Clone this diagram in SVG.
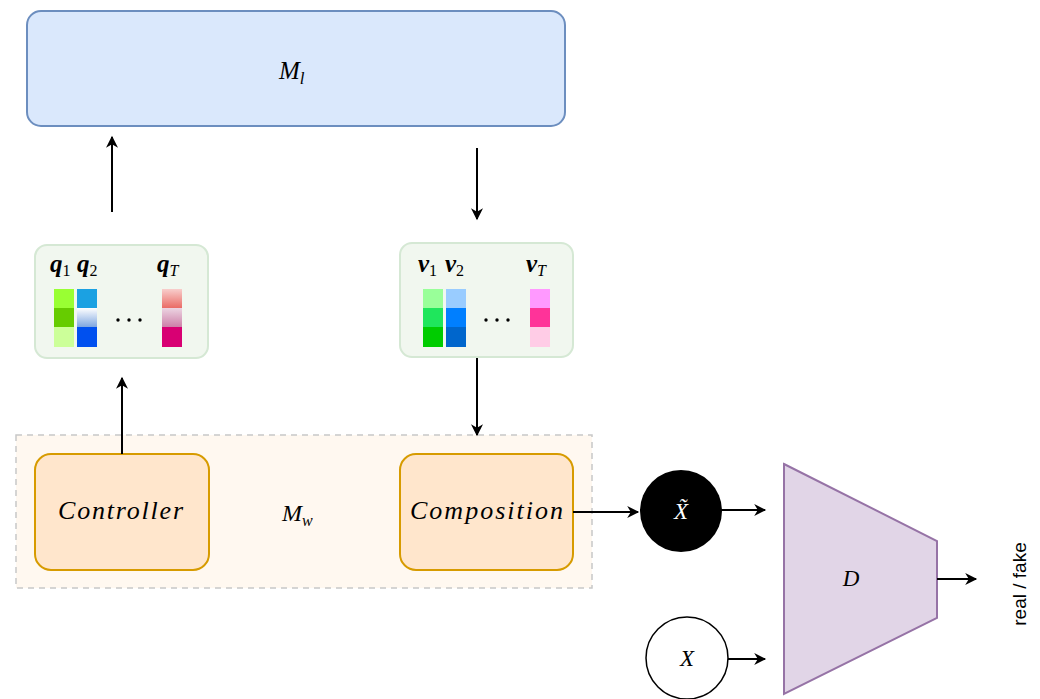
<svg xmlns="http://www.w3.org/2000/svg" width="1040" height="699" viewBox="0 0 1040 699">
  <style>
    .math { font-family: "Liberation Serif", "DejaVu Serif", serif; font-style: italic; fill: #000; }
    .vec { font-weight: bold; }
    .sub { font-family: "Liberation Serif", "DejaVu Serif", serif; font-style: normal; font-weight: normal; }
    .subi { font-weight: normal; }
    .edge { stroke: #000; stroke-width: 2; fill: none; }
    .panel { fill: #f1f7ef; stroke: #d5e8d4; stroke-width: 2; }
    .block { fill: #ffe6cc; stroke: #d79b00; stroke-width: 2; }
  </style>
  <defs>
    <marker id="arrow" viewBox="0 0 10 10" refX="9" refY="5" markerWidth="13" markerHeight="12" markerUnits="userSpaceOnUse" orient="auto">
      <path d="M0,0 L10,5 L0,10 L3,5 Z" fill="#000"/>
    </marker>
    <linearGradient id="gBlue" x1="0" y1="0" x2="0" y2="1">
      <stop offset="0" stop-color="#ffffff"/>
      <stop offset="1" stop-color="#7ea6e0"/>
    </linearGradient>
    <linearGradient id="gRed" x1="0" y1="0" x2="0" y2="1">
      <stop offset="0" stop-color="#f8cecc"/>
      <stop offset="1" stop-color="#ea6b66"/>
    </linearGradient>
    <linearGradient id="gPink" x1="0" y1="0" x2="0" y2="1">
      <stop offset="0" stop-color="#ecd5e2"/>
      <stop offset="1" stop-color="#cd7fa8"/>
    </linearGradient>
  </defs>

  <!-- memory block -->
  <g id="memory">
    <rect x="27" y="11" width="538" height="115" rx="14" fill="#dae8fc" stroke="#6c8ebf" stroke-width="2"/>
    <text x="279" y="79" class="math" font-size="25">M<tspan font-size="17" dy="5">l</tspan></text>
  </g>

  <!-- workspace container -->
  <g id="workspace">
    <rect x="16" y="435" width="576" height="153" fill="#fff8f0" stroke="#c8c8c8" stroke-width="1.5" stroke-dasharray="6 5"/>
    <text x="282" y="521" class="math" font-size="24">M<tspan font-size="16" dy="5">w</tspan></text>
  </g>

  <!-- query panel -->
  <g id="queries">
    <rect x="35" y="245" width="173" height="113" rx="12" class="panel"/>
    <text x="50" y="272" class="math vec" font-size="25">q<tspan class="sub" font-size="16" dy="4">1</tspan></text>
    <text x="77" y="272" class="math vec" font-size="25">q<tspan class="sub" font-size="16" dy="4">2</tspan></text>
    <text x="157" y="272" class="math vec" font-size="25">q<tspan class="subi" font-size="16" dy="4">T</tspan></text>
    <rect x="54" y="289" width="20" height="19" fill="#99ff33"/>
    <rect x="54" y="308" width="20" height="19" fill="#66cc00"/>
    <rect x="54" y="327" width="20" height="20" fill="#ccff99"/>
    <rect x="77" y="289" width="20" height="19" fill="#1ba1e2"/>
    <rect x="77" y="308" width="20" height="19" fill="url(#gBlue)"/>
    <rect x="77" y="327" width="20" height="20" fill="#0050ef"/>
    <rect x="162" y="289" width="20" height="19" fill="url(#gRed)"/>
    <rect x="162" y="308" width="20" height="19" fill="url(#gPink)"/>
    <rect x="162" y="327" width="20" height="20" fill="#d80073"/>
    <circle cx="118" cy="320" r="1.7"/>
    <circle cx="129" cy="320" r="1.7"/>
    <circle cx="140" cy="320" r="1.7"/>
  </g>

  <!-- value panel -->
  <g id="values">
    <rect x="400" y="243" width="173" height="114" rx="12" class="panel"/>
    <text x="418" y="272" class="math vec" font-size="25">v<tspan class="sub" font-size="16" dy="4">1</tspan></text>
    <text x="445" y="272" class="math vec" font-size="25">v<tspan class="sub" font-size="16" dy="4">2</tspan></text>
    <text x="526" y="272" class="math vec" font-size="25">v<tspan class="subi" font-size="16" dy="4">T</tspan></text>
    <rect x="423" y="289" width="20" height="19" fill="#99ff99"/>
    <rect x="423" y="308" width="20" height="19" fill="#1fe65c"/>
    <rect x="423" y="327" width="20" height="20" fill="#00cc00"/>
    <rect x="446" y="289" width="20" height="19" fill="#99ccff"/>
    <rect x="446" y="308" width="20" height="19" fill="#007fff"/>
    <rect x="446" y="327" width="20" height="20" fill="#0066cc"/>
    <rect x="530" y="289" width="20" height="19" fill="#ff99ff"/>
    <rect x="530" y="308" width="20" height="19" fill="#ff3399"/>
    <rect x="530" y="327" width="20" height="20" fill="#ffcce6"/>
    <circle cx="486" cy="320" r="1.7"/>
    <circle cx="497" cy="320" r="1.7"/>
    <circle cx="508" cy="320" r="1.7"/>
  </g>

  <!-- controller -->
  <g id="controller">
    <rect x="35" y="454" width="174" height="116" rx="16" class="block"/>
    <text x="58" y="519" class="math" font-size="26" textLength="125" lengthAdjust="spacing">Controller</text>
  </g>

  <!-- composition -->
  <g id="composition">
    <rect x="400" y="454" width="173" height="116" rx="16" class="block"/>
    <text x="410" y="519" class="math" font-size="26" textLength="153" lengthAdjust="spacing">Composition</text>
  </g>

  <!-- generated sample -->
  <g id="generated">
    <circle cx="681" cy="511" r="41" fill="#000"/>
    <text x="681" y="519" class="math" font-size="23" style="fill:#fff" text-anchor="middle">X̃</text>
  </g>

  <!-- real sample -->
  <g id="real">
    <circle cx="687" cy="658" r="41" fill="#fff" stroke="#000" stroke-width="1.5"/>
    <text x="687" y="666" class="math" font-size="23" text-anchor="middle">X</text>
  </g>

  <!-- discriminator -->
  <g id="discriminator">
    <path d="M784,464 L937,541 L937,618 L784,694 Z" fill="#e1d5e7" stroke="#9673a6" stroke-width="2"/>
    <text x="851" y="586" class="math" font-size="23" text-anchor="middle">D</text>
  </g>

  <!-- output label -->
  <g id="output">
    <text transform="translate(1026,584) rotate(-90)" font-family="Liberation Sans, Arial, sans-serif" font-size="19" text-anchor="middle">real / fake</text>
  </g>

  <!-- connectors -->
  <g id="connectors">
    <line x1="112" y1="212" x2="112" y2="137" class="edge" marker-end="url(#arrow)"/>
    <line x1="477" y1="148" x2="477" y2="219" class="edge" marker-end="url(#arrow)"/>
    <line x1="122" y1="454" x2="122" y2="378" class="edge" marker-end="url(#arrow)"/>
    <line x1="477" y1="358" x2="477" y2="435" class="edge" marker-end="url(#arrow)"/>
    <line x1="573" y1="512" x2="638" y2="512" class="edge" marker-end="url(#arrow)"/>
    <line x1="722" y1="510" x2="765" y2="510" class="edge" marker-end="url(#arrow)"/>
    <line x1="728" y1="659" x2="765" y2="659" class="edge" marker-end="url(#arrow)"/>
    <line x1="937" y1="579" x2="976" y2="579" class="edge" marker-end="url(#arrow)"/>
  </g>
</svg>
